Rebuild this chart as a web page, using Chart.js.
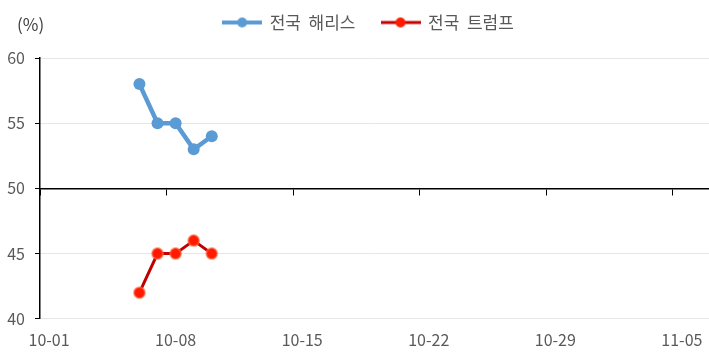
<!DOCTYPE html>
<html>
<head>
<meta charset="utf-8">
<script src="https://cdn.jsdelivr.net/npm/chart.js@4.4.1/dist/chart.umd.min.js"></script>
<style>
  body { margin: 0; background: #fff; }
  #wrap { position: relative; width: 709px; height: 354px; }
  #unit { position: absolute; left: 17px; top: 11px; font: 17px "Noto Sans CJK KR", sans-serif; color: #404040; }
</style>
</head>
<body>
<div id="wrap">
  <canvas id="pollChart" width="709" height="354"></canvas>
  <div id="unit">(%)</div>
</div>
<script>
// poll dates and values
const dates = ['10-06', '10-07', '10-08', '10-09', '10-10'];
const harris = [58, 55, 55, 53, 54];
const trump = [42, 45, 45, 46, 45];
const tickLabels = ['10-01', '10-08', '10-15', '10-22', '10-29', '11-05'];
const seriesNames = ['전국  해리스', '전국  트럼프'];

// days since 10-01
function dayOf(md) {
    const [m, d] = md.split('-').map(Number);
    return (Date.UTC(2024, m - 1, d) - Date.UTC(2024, 9, 1)) / 86400000;
}

// points sit in the middle of their day, like an Excel date axis
function toPoints(values) {
    return values.map((v, i) => ({ x: dayOf(dates[i]) + 0.5, y: v }));
}

const tickDays = tickLabels.map(dayOf);

// legend icon: short line with a dot in the middle
function legendIcon(color, dot, lw) {
    const c = document.createElement('canvas');
    c.width = 40; c.height = 14;
    const g = c.getContext('2d');
    g.strokeStyle = color; g.lineWidth = lw;
    g.beginPath(); g.moveTo(0, 7); g.lineTo(40, 7); g.stroke();
    g.fillStyle = dot;
    g.beginPath(); g.arc(20, 7, 5, 0, Math.PI * 2); g.fill();
    return c;
}
const icons = [legendIcon('#5B9BD5', '#5B9BD5', 4), legendIcon('#C00000', '#FF1A00', 3)];

// move the legend up and a bit right, like the original
const legendNudge = {
    id: 'legendNudge',
    afterLayout(chart) {
        chart.legend.left += 28;
        chart.legend.top -= 17;
    }
};

const font = { family: '"Noto Sans CJK KR", sans-serif', size: 16 };

new Chart(document.getElementById('pollChart'), {
    type: 'line',
    data: {
        datasets: [{
            label: seriesNames[0],
            data: toPoints(harris),
            borderColor: '#5B9BD5',
            backgroundColor: '#5B9BD5',
            borderWidth: 4.5,
            pointRadius: 6,
            pointBorderWidth: 0,
            pointBackgroundColor: '#5B9BD5',
            xAxisID: 'x'
        }, {
            label: seriesNames[1],
            data: toPoints(trump),
            borderColor: '#C00000',
            backgroundColor: '#FF1A00',
            borderWidth: 3,
            pointRadius: 5.5,
            pointBorderWidth: 2,
            pointBackgroundColor: '#FF1A00',
            pointBorderColor: 'rgba(255,110,70,0.55)',
            xAxisID: 'x'
        }]
    },
    plugins: [legendNudge],
    options: {
        responsive: false,
        animation: false,
        layout: { autoPadding: false, padding: { top: 5, right: 0, bottom: 4, left: 0 } },
        plugins: {
            tooltip: { enabled: false },
            legend: {
                position: 'top',
                labels: {
                    usePointStyle: true,
                    pointStyleWidth: 38,
                    padding: 26,
                    font: { family: font.family, size: 17 },
                    color: '#595959',
                    generateLabels: chart => chart.data.datasets.map((ds, i) => ({
                        text: ds.label,
                        pointStyle: icons[i],
                        fontColor: '#595959',
                        fillStyle: 'transparent',
                        strokeStyle: 'transparent',
                        lineWidth: 0,
                        hidden: false,
                        datasetIndex: i
                    }))
                }
            }
        },
        scales: {
            y: {
                min: 40,
                max: 60,
                ticks: { stepSize: 5, color: '#595959', font: font, padding: 10 },
                grid: { color: '#e6e6e6', tickColor: '#000', tickLength: 5 },
                border: { display: true, color: '#000', width: 1.5 },
                afterFit: s => { s.width = 40; }
            },
            // axis line and tick marks across the 50% line
            x: {
                type: 'linear',
                position: { y: 50 },
                min: 0,
                max: 37,
                afterBuildTicks: s => { s.ticks = tickDays.map(v => ({ value: v })); },
                ticks: { display: false },
                grid: { drawOnChartArea: false, drawTicks: true, tickLength: 6, tickColor: '#000' },
                border: { display: true, color: '#000', width: 1.5 }
            },
            // date labels centred on their day, at the bottom
            x2: {
                type: 'linear',
                position: 'bottom',
                min: 0,
                max: 37,
                afterBuildTicks: s => { s.ticks = tickDays.map(v => ({ value: v + 0.5 })); },
                ticks: {
                    color: '#595959',
                    font: font,
                    padding: 0,
                    maxRotation: 0,
                    autoSkip: false,
                    callback: (v, i) => tickLabels[i]
                },
                grid: { display: false, drawTicks: true, tickLength: 12 },
                border: { display: false }
            }
        }
    }
});
</script>
</body>
</html>
